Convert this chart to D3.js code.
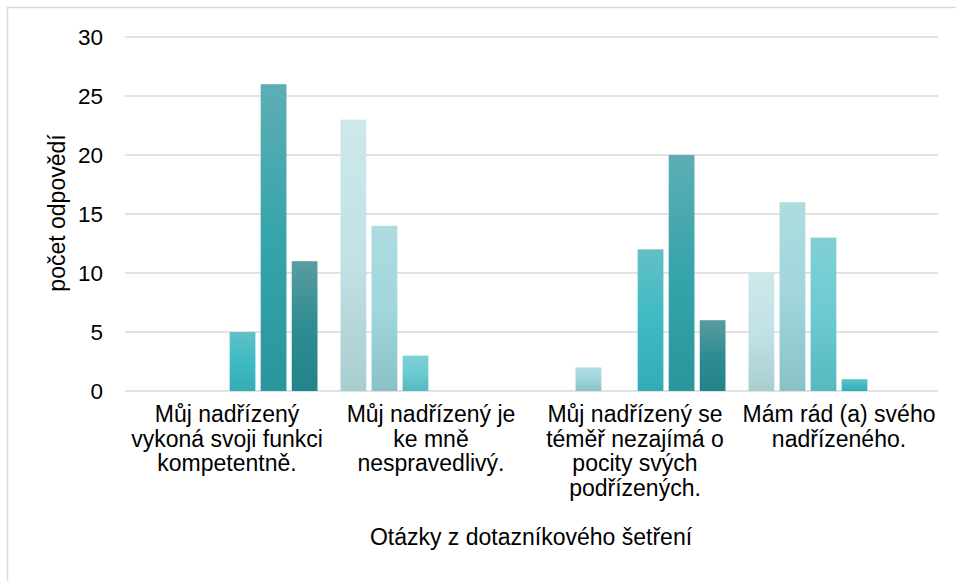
<!DOCTYPE html>
<html>
<head>
<meta charset="utf-8">
<script src="https://cdn.jsdelivr.net/npm/d3@7"></script>
<style>
  html, body { margin: 0; padding: 0; background: #fff; }
  svg { display: block; font-family: "Liberation Sans", Arial, sans-serif; }
</style>
</head>
<body>
<svg id="chart" width="956" height="581"></svg>
<script>
// ---- data ----
const categories = [
  "Můj nadřízený vykoná svoji funkci kompetentně.",
  "Můj nadřízený je ke mně nespravedlivý.",
  "Můj nadřízený se téměř nezajímá o pocity svých podřízených.",
  "Mám rád (a) svého nadřízeného."
];
const categoryLines = [
  ["Můj nadřízený", "vykoná svoji funkci", "kompetentně."],
  ["Můj nadřízený je", "ke mně", "nespravedlivý."],
  ["Můj nadřízený se", "téměř nezajímá o", "pocity svých", "podřízených."],
  ["Mám rád (a) svého", "nadřízeného."]
];
const seriesNames = ["1", "2", "3", "4", "5", "6"];
const series1 = [0, 23, 0, 10];
const series2 = [0, 14, 2, 16];
const series3 = [0, 3, 0, 13];
const series4 = [5, 0, 12, 1];
const series5 = [26, 0, 20, 0];
const series6 = [11, 0, 6, 0];
const seriesValues = [series1, series2, series3, series4, series5, series6];
const yTicks = [0, 5, 10, 15, 20, 25, 30];
const yTitle = "počet odpovědí";
const xTitle = "Otázky z dotazníkového šetření";

// gradient stops per series (top, middle, bottom)
const gradients = [
  ["#cde8eb", "#c2e2e6", "#a8cdd0"],
  ["#addcdf", "#a0d6dc", "#88c2c7"],
  ["#82cfd5", "#6ccad2", "#57b8bf"],
  ["#62bfc7", "#3fbac3", "#33adb5"],
  ["#5daeb4", "#36a4ab", "#29969d"],
  ["#599ca1", "#2f8c92", "#22838a"]
];

const svg = d3.select("#chart");

// outer frame
svg.append("rect")
  .attr("x", 7.5).attr("y", 7.5)
  .attr("width", 1000).attr("height", 700)
  .attr("fill", "#fff").attr("stroke", "#d9d9d9").attr("stroke-width", 1.5);

const defs = svg.append("defs");
gradients.forEach((g, i) => {
  const lg = defs.append("linearGradient")
    .attr("id", "grad" + i)
    .attr("x1", 0).attr("y1", 0).attr("x2", 0).attr("y2", 1);
  lg.append("stop").attr("offset", "0%").attr("stop-color", g[0]);
  lg.append("stop").attr("offset", "50%").attr("stop-color", g[1]);
  lg.append("stop").attr("offset", "100%").attr("stop-color", g[2]);
});

const plotLeft = 125, plotRight = 941, plotTop = 37, plotBottom = 391;

const x0 = d3.scaleBand().domain(d3.range(categories.length))
  .range([plotLeft, plotRight]).padding(0);
const x1 = d3.scaleBand().domain(d3.range(seriesNames.length))
  .range([11.5, x0.bandwidth() - 11.5]).paddingInner(0.17).paddingOuter(0);
const y = d3.scaleLinear().domain([0, 30]).range([plotBottom, plotTop]);

// gridlines
svg.append("g")
  .selectAll("line")
  .data(yTicks)
  .join("line")
  .attr("x1", plotLeft).attr("x2", plotRight - 3)
  .attr("y1", d => y(d)).attr("y2", d => y(d))
  .attr("stroke", "#d9d9d9").attr("stroke-width", 1.5);

// y tick labels
svg.append("g")
  .selectAll("text")
  .data(yTicks)
  .join("text")
  .attr("x", 103)
  .attr("y", d => y(d))
  .attr("dy", "0.36em")
  .attr("text-anchor", "end")
  .attr("font-size", 22.5)
  .attr("fill", "#000")
  .text(d => d);

// bars
const groups = svg.append("g")
  .selectAll("g")
  .data(categories.map((c, ci) => ({ ci, vals: seriesValues.map(s => s[ci]) })))
  .join("g")
  .attr("transform", d => `translate(${x0(d.ci)},0)`);

groups.selectAll("rect")
  .data(d => d.vals.map((v, si) => ({ v, si })).filter(e => e.v > 0))
  .join("rect")
  .attr("x", d => x1(d.si))
  .attr("width", x1.bandwidth())
  .attr("y", d => y(d.v))
  .attr("height", d => y(0) - y(d.v))
  .attr("fill", d => `url(#grad${d.si})`);

// category labels
const catG = svg.append("g");
categoryLines.forEach((lines, ci) => {
  const cx = x0(ci) + x0.bandwidth() / 2;
  const t = catG.append("text")
    .attr("text-anchor", "middle")
    .attr("font-size", 23)
    .attr("fill", "#000");
  lines.forEach((ln, li) => {
    t.append("tspan")
      .attr("x", cx)
      .attr("y", 422 + li * 24.5)
      .text(ln);
  });
});

// axis titles
svg.append("text")
  .attr("x", (plotLeft + plotRight) / 2 - 2)
  .attr("y", 545)
  .attr("text-anchor", "middle")
  .attr("font-size", 23)
  .attr("fill", "#000")
  .text(xTitle);

svg.append("text")
  .attr("transform", `translate(65,${(plotTop + plotBottom) / 2 - 1}) rotate(-90)`)
  .attr("text-anchor", "middle")
  .attr("font-size", 23)
  .attr("fill", "#000")
  .text(yTitle);
</script>
</body>
</html>
